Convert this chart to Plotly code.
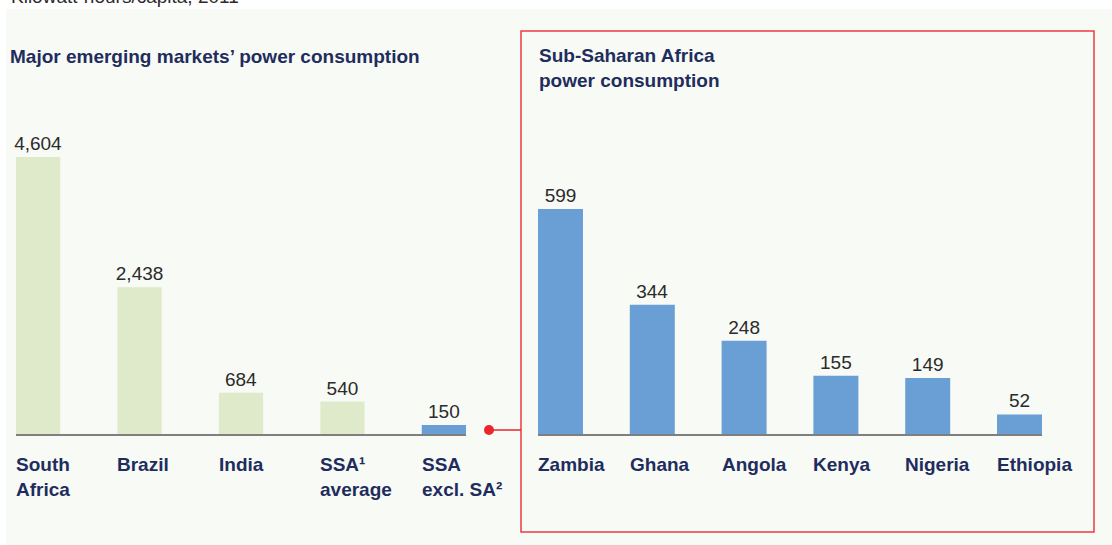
import plotly.graph_objects as go

# ---- data ----
left_categories = ["South<br>Africa", "Brazil", "India", "SSA¹<br>average", "SSA<br>excl. SA²"]
left_values = [4604, 2438, 684, 540, 150]
left_colors = ["#deeac9", "#deeac9", "#deeac9", "#deeac9", "#6a9fd5"]

right_categories = ["Zambia", "Ghana", "Angola", "Kenya", "Nigeria", "Ethiopia"]
right_values = [599, 344, 248, 155, 149, 52]

unit_label = "Kilowatt-hours/capita, 2011"
left_title = "Major emerging markets’ power consumption"
right_title = "Sub-Saharan Africa<br>power consumption"

# ---- layout helpers (pixel geometry) ----
W, H = 1112, 545
def px_x(p):
    return p / W
def px_y(p):
    return 1 - p / H

FONT = "Arial, 'Liberation Sans', sans-serif"
NAVY = "#1f2d5e"
TEXT = "#2b2b2b"
FS = 19

left_gap = 0.564
right_gap = 0.51
lhw = (1 - left_gap) / 2
rhw = (1 - right_gap) / 2

fig = go.Figure()

fig.add_trace(go.Bar(
    x=list(range(len(left_values))), y=left_values, width=1 - left_gap,
    marker=dict(color=left_colors, line=dict(width=0)),
    text=[f"{v:,}" for v in left_values], textposition="outside",
    textfont=dict(size=FS, color=TEXT, family=FONT),
    constraintext="none", cliponaxis=False,
    xaxis="x", yaxis="y", hoverinfo="skip", showlegend=False,
))
fig.add_trace(go.Bar(
    x=list(range(len(right_values))), y=right_values, width=1 - right_gap,
    marker=dict(color="#6a9fd5", line=dict(width=0)),
    text=[f"{v:,}" for v in right_values], textposition="outside",
    textfont=dict(size=FS, color=TEXT, family=FONT),
    constraintext="none", cliponaxis=False,
    xaxis="x2", yaxis="y2", hoverinfo="skip", showlegend=False,
))

base_px = 434
top_px = 100
left_upp = 4604 / 277.0
right_upp = 599 / 225.0

axis_common = dict(showgrid=False, zeroline=False, showticklabels=False, ticks="", fixedrange=True)

fig.update_layout(
    width=W, height=H,
    margin=dict(l=0, r=0, t=0, b=0),
    paper_bgcolor="white", plot_bgcolor="rgba(0,0,0,0)",
    font=dict(family=FONT),
    xaxis=dict(domain=[px_x(16), px_x(466)], range=[-lhw, len(left_values) - 1 + lhw],
               showline=True, linecolor="#7f7f7f", linewidth=2, anchor="y", **axis_common),
    yaxis=dict(domain=[px_y(base_px), px_y(top_px)], range=[0, (base_px - top_px) * left_upp],
               showline=False, anchor="x", **axis_common),
    xaxis2=dict(domain=[px_x(538), px_x(1042)], range=[-rhw, len(right_values) - 1 + rhw],
                showline=True, linecolor="#7f7f7f", linewidth=2, anchor="y2", **axis_common),
    yaxis2=dict(domain=[px_y(base_px), px_y(top_px)], range=[0, (base_px - top_px) * right_upp],
                showline=False, anchor="x2", **axis_common),
)

shapes = [
    dict(type="rect", xref="paper", yref="paper", x0=px_x(6), x1=px_x(1112), y0=px_y(545), y1=px_y(9),
         fillcolor="#f8faf5", line=dict(width=0), layer="below"),
    dict(type="rect", xref="paper", yref="paper", x0=px_x(521), x1=px_x(1094), y0=px_y(532), y1=px_y(31),
         fillcolor="rgba(0,0,0,0)", line=dict(color="#ec3b3e", width=1.5), layer="above"),
    dict(type="line", xref="paper", yref="paper", x0=px_x(489), x1=px_x(521), y0=px_y(430), y1=px_y(430),
         line=dict(color="#e8262b", width=1.5)),
    dict(type="circle", xref="paper", yref="paper", x0=px_x(484), x1=px_x(494), y0=px_y(435), y1=px_y(425),
         fillcolor="#e8262b", line=dict(width=0)),
]
fig.update_layout(shapes=shapes)

ann = []
ann.append(dict(text=unit_label, xref="paper", yref="paper", x=px_x(9), y=px_y(-3),
                xanchor="left", yanchor="middle", showarrow=False,
                font=dict(size=FS, color=TEXT, family=FONT)))
ann.append(dict(text=f"<b>{left_title}</b>", xref="paper", yref="paper", x=px_x(8), y=px_y(57),
                xanchor="left", yanchor="middle", showarrow=False,
                font=dict(size=FS, color=NAVY, family=FONT)))
ann.append(dict(text=f"<b>{right_title}</b>", xref="paper", yref="paper", x=px_x(537), y=px_y(43),
                xanchor="left", yanchor="top", showarrow=False, align="left",
                font=dict(size=FS, color=NAVY, family=FONT)))

for i, c in enumerate(left_categories):
    ann.append(dict(text=f"<b>{c}</b>", xref="x", yref="paper", x=i - lhw, y=px_y(452),
                    xanchor="left", yanchor="top", showarrow=False, align="left", xshift=-2,
                    font=dict(size=FS, color=NAVY, family=FONT)))
for i, c in enumerate(right_categories):
    ann.append(dict(text=f"<b>{c}</b>", xref="x2", yref="paper", x=i - rhw, y=px_y(452),
                    xanchor="left", yanchor="top", showarrow=False, align="left", xshift=-2,
                    font=dict(size=FS, color=NAVY, family=FONT)))
fig.update_layout(annotations=ann)

fig.write_html("out.html", config={"displayModeBar": False},
               post_script="document.body.style.margin='0';document.body.style.overflow='hidden';")
